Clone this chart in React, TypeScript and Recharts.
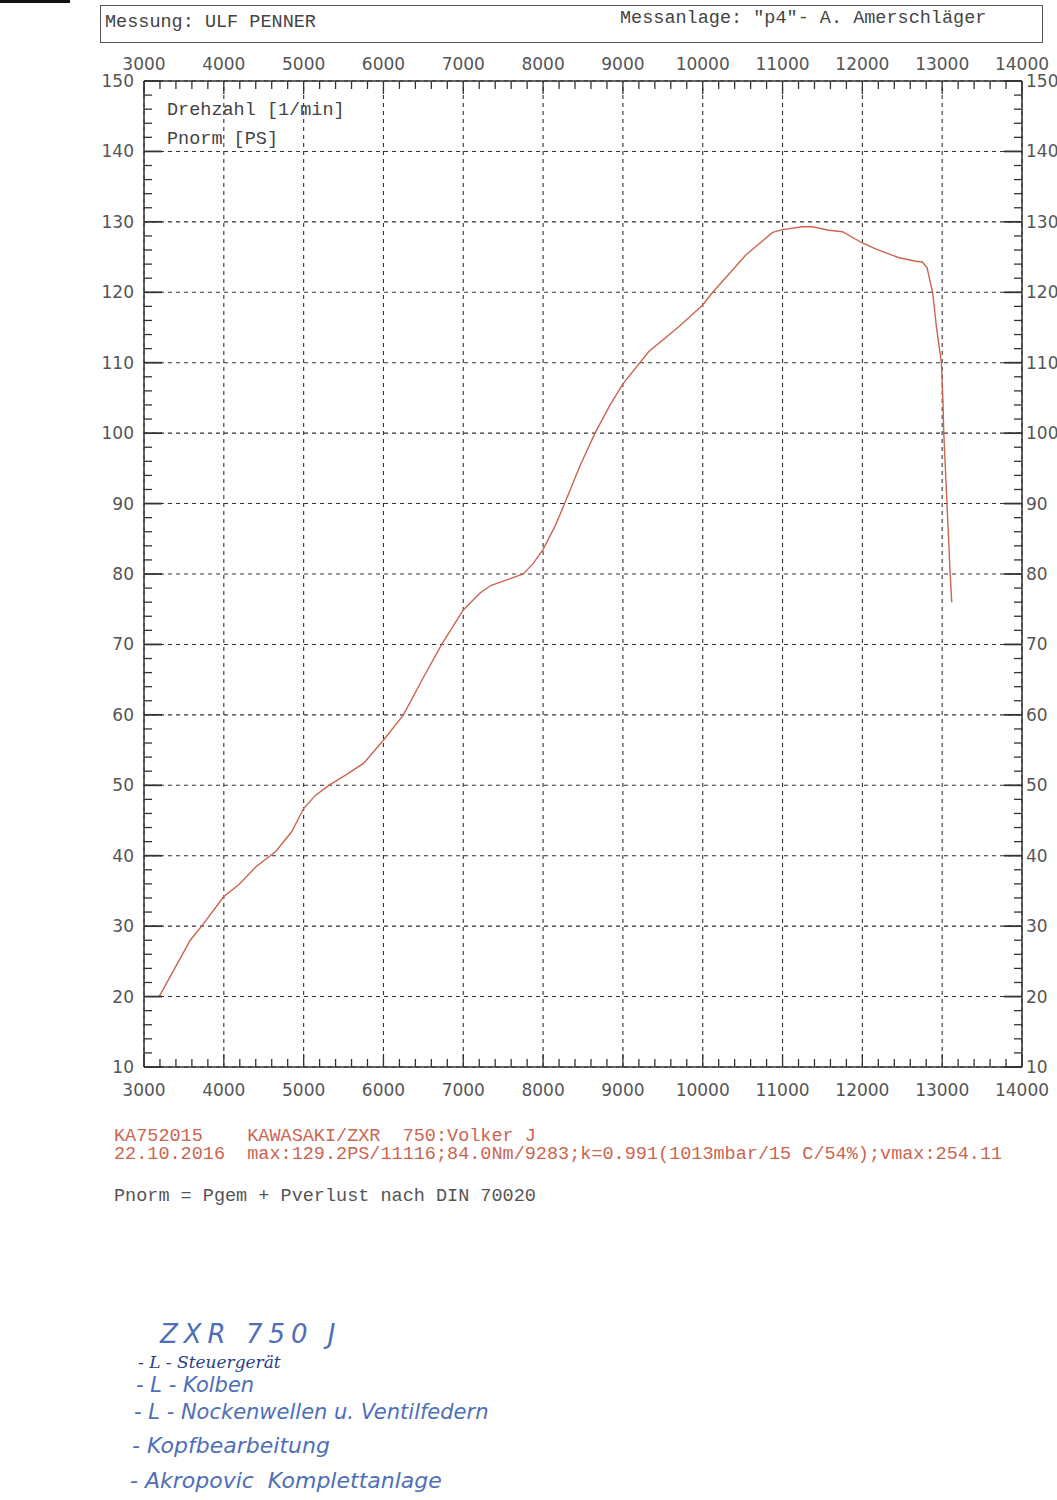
import { LineChart, Line, XAxis, YAxis, ReferenceLine } from 'recharts'

// Drehzahl [1/min] vs. Pnorm [PS]
const rpm = [
    3190, 3350, 3580, 3730, 4000, 4190, 4400, 4650, 4850, 5000, 5150, 5330, 5520, 5750,
    6000, 6250, 6500, 6730, 7000, 7210, 7350, 7580, 7750, 7870, 8000, 8150, 8270, 8460,
    8650, 8840, 9000, 9325, 9700, 10000, 10125, 10540, 10875, 11000, 11250, 11375, 11580,
    11750, 12000, 12180, 12460, 12670, 12750, 12810, 12880, 12930, 12990, 13010, 13020,
    13060, 13100, 13120
]
const pnorm = [
    20, 23.3, 28, 30.1, 34.2, 35.9, 38.4, 40.6, 43.4, 46.7, 48.6, 50.1, 51.4, 53.1,
    56.4, 60, 65.3, 70, 74.9, 77.3, 78.4, 79.3, 80, 81.4, 83.5, 86.8, 90, 95.3,
    100, 104, 107, 111.6, 115.1, 118.2, 120, 125.3, 128.5, 128.9, 129.3, 129.3, 128.8,
    128.6, 127, 126.1, 124.9, 124.4, 124.3, 123.5, 120, 114.9, 110, 104.4, 100,
    90, 80, 76
]

const rpmMajor = [3000, 4000, 5000, 6000, 7000, 8000, 9000, 10000, 11000, 12000, 13000, 14000]
const psMajor = [10, 20, 30, 40, 50, 60, 70, 80, 90, 100, 110, 120, 130, 140, 150]

const rpmTicks: number[] = []
for (let v = 3000; v <= 14000; v += 200) rpmTicks.push(v)
const psTicks: number[] = []
for (let v = 10; v <= 150; v += 2) psTicks.push(v)

const data = rpm.map((r, i) => ({ rpm: r, ps: pnorm[i] }))

const INK = '#333'
const LABEL = { fontFamily: 'DejaVu Sans', fontSize: 17, fill: '#555' }
const MONO = 'Liberation Mono, DejaVu Sans Mono, monospace'
const RED = '#cc6450'
const BLUE = '#4d6fb8'

function XTick({ x, y, payload, side }: any) {
    const v = payload.value
    const major = v % 1000 === 0
    const dir = side === 'top' ? 1 : -1
    const len = major ? 13 : 8
    return (
        <g>
            <line x1={x} y1={y} x2={x} y2={y + dir * len} stroke={INK} strokeWidth={1.3} />
            {major && (
                <text x={x} y={side === 'top' ? y - 11 : y + 29} textAnchor="middle" {...LABEL}>{v}</text>
            )}
        </g>
    )
}

function YTick({ x, y, payload, side }: any) {
    const v = payload.value
    const major = v % 10 === 0
    const dir = side === 'left' ? 1 : -1
    const len = major ? 18 : 8
    return (
        <g>
            <line x1={x} y1={y} x2={x + dir * len} y2={y} stroke={INK} strokeWidth={major ? 1.8 : 1.3} />
            {major && (
                <text x={side === 'left' ? x - 10 : x + 4} y={y + 6} textAnchor={side === 'left' ? 'end' : 'start'} {...LABEL}>{v}</text>
            )}
        </g>
    )
}

const abs = (left: number, top: number, extra: any = {}) => ({ position: 'absolute' as const, left, top, whiteSpace: 'pre' as const, margin: 0, ...extra })

export default function App() {
    return (
        <div style={{ position: 'absolute', left: 0, top: 0, width: 1057, height: 1500, background: '#fff', overflow: 'hidden' }}>
            <div style={abs(0, 0, { width: 70, height: 3, background: '#111' })} />

            {/* Header box */}
            <div style={abs(100, 5, { width: 941, height: 36, border: '1.5px solid #555' })} />
            <div style={abs(105, 12, { fontFamily: MONO, fontSize: 18.5, color: '#444' })}>Messung: ULF PENNER</div>
            <div style={abs(620, 8, { fontFamily: MONO, fontSize: 18.5, color: '#444' })}>Messanlage: "p4"- A. Amerschläger</div>

            <div style={abs(0, 0)}>
                <LineChart width={1057} height={1110} data={data} margin={{ top: 51, right: 5, bottom: 13, left: 104 }}>
                    {psMajor.map(v => (
                        <ReferenceLine key={'h' + v} yAxisId="l" xAxisId="b" y={v} stroke={INK} strokeDasharray="4 4" strokeWidth={1.1} />
                    ))}
                    {rpmMajor.map(v => (
                        <ReferenceLine key={'v' + v} yAxisId="l" xAxisId="b" x={v} stroke={INK} strokeDasharray="4 4" strokeWidth={1.1} />
                    ))}
                    <XAxis xAxisId="b" dataKey="rpm" type="number" domain={[3000, 14000]} ticks={rpmTicks} interval={0}
                        orientation="bottom" height={30} tickSize={0} tickMargin={0} allowDataOverflow
                        axisLine={{ stroke: INK, strokeWidth: 1.5 }} tickLine={false} tick={<XTick side="bottom" />} />
                    <XAxis xAxisId="t" dataKey="rpm" type="number" domain={[3000, 14000]} ticks={rpmTicks} interval={0}
                        orientation="top" height={30} tickSize={0} tickMargin={0} allowDataOverflow
                        axisLine={{ stroke: INK, strokeWidth: 1.5 }} tickLine={false} tick={<XTick side="top" />} />
                    <YAxis yAxisId="l" dataKey="ps" type="number" domain={[10, 150]} ticks={psTicks} interval={0}
                        orientation="left" width={40} tickSize={0} tickMargin={0} allowDataOverflow
                        axisLine={{ stroke: INK, strokeWidth: 1.5 }} tickLine={false} tick={<YTick side="left" />} />
                    <YAxis yAxisId="r" dataKey="ps" type="number" domain={[10, 150]} ticks={psTicks} interval={0}
                        orientation="right" width={30} tickSize={0} tickMargin={0} allowDataOverflow
                        axisLine={{ stroke: INK, strokeWidth: 1.5 }} tickLine={false} tick={<YTick side="right" />} />
                    <Line xAxisId="b" yAxisId="l" type="linear" dataKey="ps" stroke={RED} strokeWidth={1.4}
                        dot={false} isAnimationActive={false} />
                </LineChart>
            </div>

            {/* Legend inside plot */}
            <div style={abs(167, 100, { fontFamily: MONO, fontSize: 18.5, color: '#444' })}>Drehzahl [1/min]</div>
            <div style={abs(167, 129, { fontFamily: MONO, fontSize: 18.5, color: '#444' })}>Pnorm [PS]</div>

            {/* Footer info */}
            <div style={abs(114, 1128, { fontFamily: MONO, fontSize: 18.5, color: RED, lineHeight: '18px' })}>
                {'KA752015    KAWASAKI/ZXR  750:Volker J\n22.10.2016  max:129.2PS/11116;84.0Nm/9283;k=0.991(1013mbar/15 C/54%);vmax:254.11'}
            </div>
            <div style={abs(114, 1186, { fontFamily: MONO, fontSize: 18.5, color: '#555' })}>Pnorm = Pgem + Pverlust nach DIN 70020</div>

            {/* Handwritten notes */}
            <div style={abs(160, 1318, { fontFamily: 'DejaVu Sans', fontStyle: 'italic', fontWeight: 300, fontSize: 26, color: BLUE, letterSpacing: 6, lineHeight: '32px' })}>ZXR 750 J</div>
            <div style={abs(138, 1352, { fontFamily: 'DejaVu Serif', fontStyle: 'italic', fontSize: 17, color: '#2a3f8c', lineHeight: '20px' })}>- L - Steuergerät</div>
            <div style={abs(136, 1373, { fontFamily: 'DejaVu Sans', fontStyle: 'italic', fontWeight: 300, fontSize: 21, color: BLUE })}>- L - Kolben</div>
            <div style={abs(134, 1400, { fontFamily: 'DejaVu Sans', fontStyle: 'italic', fontWeight: 300, fontSize: 21, color: BLUE })}>- L - Nockenwellen u. Ventilfedern</div>
            <div style={abs(132, 1433, { fontFamily: 'DejaVu Sans', fontStyle: 'italic', fontWeight: 300, fontSize: 22, color: BLUE })}>- Kopfbearbeitung</div>
            <div style={abs(130, 1468, { fontFamily: 'DejaVu Sans', fontStyle: 'italic', fontWeight: 300, fontSize: 22, color: BLUE })}>- Akropovic  Komplettanlage</div>
        </div>
    )
}
